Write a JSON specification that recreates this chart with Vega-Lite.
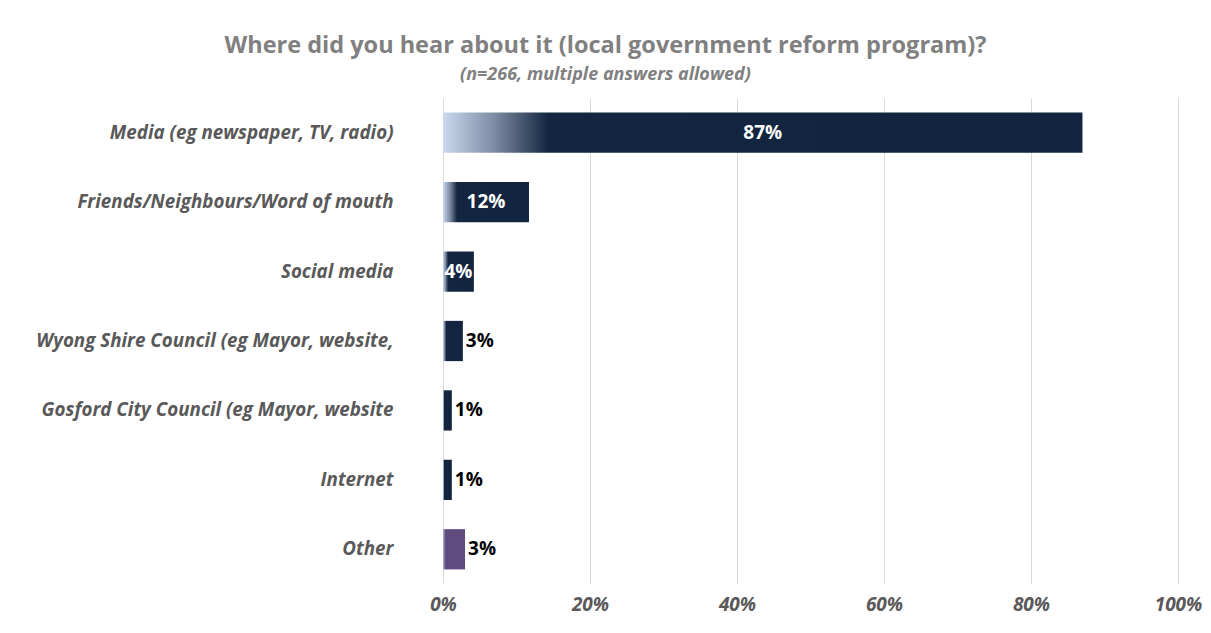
{
  "$schema": "https://vega.github.io/schema/vega-lite/v6.json",
  "autosize": "none",
  "width": 735,
  "height": 486,
  "padding": {"left": 443, "top": 98, "right": 33, "bottom": 49},
  "background": "white",
  "title": {
    "text": "Where did you hear about it (local government reform program)?",
    "subtitle": "(n=266, multiple answers allowed)",
    "anchor": "middle",
    "frame": "group",
    "dx": -205,
    "offset": 14,
    "font": "Open Sans",
    "fontSize": 23.5,
    "fontWeight": "bold",
    "color": "#808080",
    "subtitleFont": "Open Sans",
    "subtitleFontSize": 18,
    "subtitleFontWeight": "bold",
    "subtitleFontStyle": "italic",
    "subtitleColor": "#808080",
    "subtitlePadding": 9
  },
  "config": {
    "view": {"stroke": null},
    "font": "Open Sans"
  },
  "data": {
    "values": [
      {"source": "Media (eg newspaper, TV, radio)", "pct": 0.87},
      {"source": "Friends/Neighbours/Word of mouth", "pct": 0.117},
      {"source": "Social media", "pct": 0.042},
      {"source": "Wyong Shire Council (eg Mayor, website,", "pct": 0.027},
      {"source": "Gosford City Council (eg Mayor, website", "pct": 0.012},
      {"source": "Internet", "pct": 0.012},
      {"source": "Other", "pct": 0.03}
    ]
  },
  "encoding": {
    "y": {
      "field": "source",
      "type": "nominal",
      "sort": null,
      "scale": {"paddingInner": 0.42, "paddingOuter": 0.21},
      "axis": {
        "title": null,
        "ticks": false,
        "domain": false,
        "labelPadding": 50,
        "labelLimit": 0,
        "labelFont": "Open Sans",
        "labelFontSize": 18.8,
        "labelFontStyle": "italic",
        "labelFontWeight": "bold",
        "labelColor": "#595959"
      }
    },
    "x": {
      "field": "pct",
      "type": "quantitative",
      "scale": {"domain": [0, 1], "nice": false},
      "axis": {
        "title": null,
        "format": ".0%",
        "values": [0, 0.2, 0.4, 0.6, 0.8, 1],
        "grid": true,
        "gridColor": "#d9d9d9",
        "gridWidth": 1,
        "domain": false,
        "ticks": false,
        "labelFlush": false,
        "labelPadding": 11,
        "labelFont": "Open Sans",
        "labelFontSize": 19,
        "labelFontStyle": "italic",
        "labelFontWeight": "bold",
        "labelColor": "#595959"
      }
    }
  },
  "layer": [
    {
      "transform": [{"filter": "datum.source !== 'Other'"}],
      "mark": {
        "type": "bar",
        "color": {
          "gradient": "linear",
          "x1": 0, "y1": 0, "x2": 1, "y2": 0,
          "stops": [
            {"offset": 0, "color": "#c9d9ef"},
            {"offset": 0.08, "color": "#7d8ca4"},
            {"offset": 0.165, "color": "#13253f"},
            {"offset": 1, "color": "#12243f"}
          ]
        }
      }
    },
    {
      "transform": [{"filter": "datum.source === 'Other'"}],
      "mark": {
        "type": "bar",
        "color": {
          "gradient": "linear",
          "x1": 0, "y1": 0, "x2": 1, "y2": 0,
          "stops": [
            {"offset": 0, "color": "#aeb6d4"},
            {"offset": 0.12, "color": "#5f4b7e"},
            {"offset": 1, "color": "#5f4b7e"}
          ]
        }
      }
    },
    {
      "transform": [{"filter": "datum.pct >= 0.04"}],
      "mark": {
        "type": "text",
        "align": "center",
        "baseline": "middle",
        "color": "white",
        "font": "Open Sans",
        "fontSize": 19,
        "fontWeight": "bold",
        "dx": {"expr": "-scale('x', datum.pct) / 2"}
      },
      "encoding": {"text": {"field": "pct", "type": "quantitative", "format": ".0%"}}
    },
    {
      "transform": [{"filter": "datum.pct < 0.04"}],
      "mark": {
        "type": "text",
        "align": "left",
        "baseline": "middle",
        "color": "black",
        "font": "Open Sans",
        "fontSize": 19,
        "fontWeight": "bold",
        "dx": 3
      },
      "encoding": {"text": {"field": "pct", "type": "quantitative", "format": ".0%"}}
    }
  ]
}
